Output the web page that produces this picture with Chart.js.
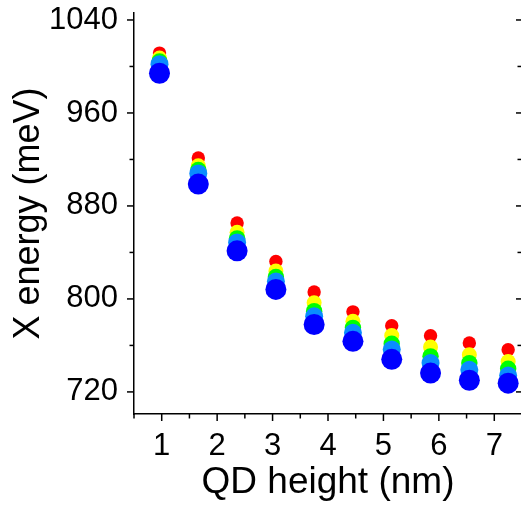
<!DOCTYPE html>
<html><head><meta charset="utf-8">
<script src="https://cdn.jsdelivr.net/npm/chart.js@4.4.0/dist/chart.umd.min.js"></script>
<style>html,body{margin:0;padding:0;overflow:hidden;background:#fff;width:521px;height:506px}</style>
</head><body>
<canvas id="c" width="524" height="506"></canvas>
<script>
// QD height (nm)
const heights = [0.96, 1.66, 2.36, 3.06, 3.75, 4.45, 5.15, 5.85, 6.55, 7.25];
// X energy (meV) for each series
const seriesRed    = [1011.5, 921.3, 865.3, 832.2, 805.9, 788.9, 777.0, 768.4, 762.1, 756.3];
const seriesYellow = [1007.2, 914.6, 857.3, 824.0, 796.7, 780.8, 768.5, 758.7, 752.0, 746.2];
const seriesGreen  = [1004.3, 910.9, 852.1, 818.9, 789.5, 775.1, 761.5, 750.6, 744.8, 739.9];
const seriesAzure  = [1002.0, 908.0, 848.6, 814.9, 785.1, 770.8, 756.5, 744.8, 739.0, 734.1];
const seriesBlue   = [994.2, 898.8, 841.4, 808.2, 778.0, 763.5, 748.0, 736.2, 730.0, 727.5];
const xTickLabels = [1, 2, 3, 4, 5, 6, 7];
const yTickLabels = [720, 800, 880, 960, 1040];
const xMinorStep = 0.5;
const yMinorStep = 40;

const FONT = "'Liberation Sans', Arial, sans-serif";

function pts(ys){ return heights.map((x,i)=>({x:x, y:ys[i]})); }
function ds(ys, color, r, order){
  return {data: pts(ys), backgroundColor: color, borderWidth: 0, pointRadius: r, pointHoverRadius: r, order: order};
}

const tickPlugin = {
  id: 'manualTicks',
  afterDraw(chart){
    const {ctx, chartArea: a, scales: {x, y}} = chart;
    ctx.save();
    ctx.strokeStyle = '#000';
    ctx.lineWidth = 1.5;
    const line = (x1,y1,x2,y2)=>{ctx.beginPath();ctx.moveTo(x1,y1);ctx.lineTo(x2,y2);ctx.stroke();};
    for (let v = x.min; v <= x.max + 1e-9; v += xMinorStep){
      const px = x.getPixelForValue(v);
      const major = xTickLabels.includes(Math.round(v*100)/100);
      line(px, a.bottom, px, a.bottom + (major ? 7 : 4.5));
    }
    for (let v = 720; v <= y.max; v += yMinorStep){
      const py = y.getPixelForValue(v);
      const major = yTickLabels.includes(v);
      line(a.left - (major ? 7 : 4.5), py, a.left, py);
      line(a.right, py, a.right - (major ? 6 : 4.5), py);
    }
    line(a.right, a.top, a.right, a.bottom);
    ctx.restore();
  }
};

new Chart(document.getElementById('c'), {
  type: 'scatter',
  data: {
    datasets: [
      ds(seriesRed,    '#ff0000', 6.7, 5),
      ds(seriesYellow, '#ffff00', 7.5, 4),
      ds(seriesGreen,  '#00ff00', 8.2, 3),
      ds(seriesAzure,  '#0a8cff', 9.0, 2),
      ds(seriesBlue,   '#0000ff', 10.5, 1)
    ]
  },
  options: {
    responsive: false,
    animation: false,
    events: [],
    layout: {autoPadding: false, padding: {top: 13, right: 2, left: 0, bottom: 0}},
    plugins: {legend: {display: false}, tooltip: {enabled: false}},
    scales: {
      x: {
        type: 'linear', min: 0.5, max: 7.5,
        afterBuildTicks: s => { s.ticks = xTickLabels.map(v => ({value: v})); },
        afterFit: s => { s.height = 92; s.paddingLeft = 0; s.paddingRight = 0; },
        grid: {display: true, drawOnChartArea: false, drawTicks: false},
        border: {display: true, color: '#000', width: 1.5},
        ticks: {padding: 14, color: '#000', font: {family: FONT, size: 31}, maxRotation: 0, autoSkip: false,
                callback: v => String(v)},
        title: {display: true, text: 'QD height (nm)', color: '#000', font: {family: FONT, size: 37, lineHeight: 1}, padding: {top: 0, bottom: 5}}
      },
      y: {
        type: 'linear', min: 701, max: 1046,
        afterBuildTicks: s => { s.ticks = yTickLabels.map(v => ({value: v})); },
        afterFit: s => { s.width = 134; s.paddingTop = 0; s.paddingBottom = 0; },
        grid: {display: true, drawOnChartArea: false, drawTicks: false},
        border: {display: true, color: '#000', width: 1.5},
        ticks: {padding: 16, color: '#000', font: {family: FONT, size: 31}, autoSkip: false,
                callback: v => String(v)},
        title: {display: true, text: 'X energy (meV)', color: '#000', font: {family: FONT, size: 36, lineHeight: 1}, padding: {top: 11, bottom: 0}}
      }
    }
  },
  plugins: [tickPlugin]
});
</script>
</body></html>
